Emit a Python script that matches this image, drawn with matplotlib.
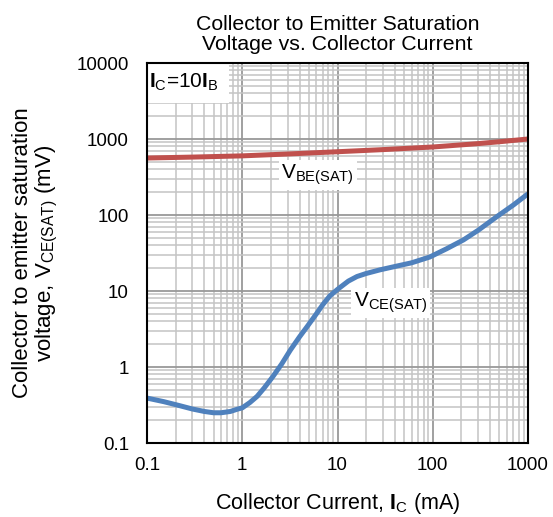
import matplotlib
matplotlib.use('Agg')
import matplotlib.pyplot as plt
from matplotlib.ticker import LogLocator, FixedLocator, NullFormatter

plt.rcParams['font.family'] = ['Liberation Sans', 'DejaVu Sans']
plt.rcParams['mathtext.fontset'] = 'custom'
plt.rcParams['mathtext.rm'] = 'Liberation Sans'
plt.rcParams['mathtext.it'] = 'Liberation Sans'
plt.rcParams['mathtext.bf'] = 'Liberation Sans:bold'

# VCE(SAT) curve (mA, mV)
ic_ce = [0.1, 0.15, 0.22, 0.3, 0.4, 0.5, 0.6, 0.75, 0.9, 1.0, 1.2, 1.43, 1.7,
         2.1, 2.6, 3.2, 4.0, 4.8, 6.0, 7.0, 8.3, 10, 13, 16, 20, 28, 40, 60,
         93, 140, 210, 300, 470, 700, 1000]
vce_sat = [0.39, 0.35, 0.31, 0.28, 0.26, 0.25, 0.25, 0.26, 0.28, 0.29, 0.34,
           0.41, 0.53, 0.75, 1.1, 1.67, 2.5, 3.4, 5.0, 6.6, 8.6, 10.5, 13.5,
           15.5, 17, 19, 21, 23.5, 28, 36, 47, 63, 95, 135, 190]

# VBE(SAT) curve
ic_be = [0.1, 0.3, 1, 3, 10, 30, 100, 300, 500, 1000]
vbe_sat = [562, 578, 600, 635, 680, 725, 785, 870, 920, 1000]

x_ticks = [0.1, 1, 10, 100, 1000]
x_labels = ['0.1', '1', '10', '100', '1000']
y_ticks = [0.1, 1, 10, 100, 1000, 10000]
y_labels = ['0.1', '1', '10', '100', '1000', '10000']

fig = plt.figure(figsize=(5.53, 5.17), dpi=100)
ax = fig.add_axes([147 / 553, 1 - 443 / 517, 381 / 553, 380 / 517])

ax.plot(ic_be, vbe_sat, color='#c0504d', lw=3.6, solid_capstyle='butt', zorder=3)
ax.plot(ic_ce, vce_sat, color='#4f81bd', lw=3.6, solid_capstyle='butt', zorder=3)

ax.set_xscale('log')
ax.set_yscale('log')
ax.set_xlim(0.1, 1000)
ax.set_ylim(0.1, 10000)

ax.xaxis.set_major_locator(FixedLocator(x_ticks))
ax.set_xticklabels(x_labels)
ax.yaxis.set_major_locator(FixedLocator(y_ticks))
ax.set_yticklabels(y_labels)
ax.xaxis.set_minor_locator(LogLocator(base=10, subs=range(2, 10), numticks=20))
ax.yaxis.set_minor_locator(LogLocator(base=10, subs=range(2, 10), numticks=20))
ax.xaxis.set_minor_formatter(NullFormatter())
ax.yaxis.set_minor_formatter(NullFormatter())

ax.grid(True, which='major', color='#999999', lw=1.3, zorder=1)
ax.grid(True, which='minor', color='#c4c4c4', lw=1.1, zorder=1)
ax.tick_params(which='both', length=0, labelsize=13.5)
ax.tick_params(axis='x', pad=10)
ax.tick_params(axis='y', pad=13)

for sp in ax.spines.values():
    sp.set_linewidth(1.5)
    sp.set_color('black')
    sp.set_zorder(5)

ax.set_title('Collector to Emitter Saturation\nVoltage vs. Collector Current',
             fontsize=15.3, pad=9, linespacing=1.1)
ax.set_xlabel('Collector Current, $\\mathbf{I}_\\mathrm{C}$ (mA)', fontsize=15.5, labelpad=12)
ax.set_ylabel('Collector to emitter saturation\nvoltage, V$_\\mathrm{CE(SAT)}$ (mV)',
              fontsize=16, labelpad=12, linespacing=1.05)

box = dict(facecolor='white', edgecolor='none', pad=2)
ax.text(0.106, 5600, '$\\mathbf{I}_\\mathrm{C}$=10$\\mathbf{I}_\\mathrm{B}$', fontsize=15,
        va='center', ha='left', bbox=dict(facecolor='white', edgecolor='none', pad=7), zorder=4)
ax.text(6.2, 340, 'V$_\\mathrm{BE(SAT)}$', fontsize=15, ha='center', va='center',
        bbox=box, zorder=4)
ax.text(36, 6.9, 'V$_\\mathrm{CE(SAT)}$', fontsize=15, ha='center', va='center',
        bbox=box, zorder=4)

fig.savefig('out.png', dpi=100)
plt.close(fig)
